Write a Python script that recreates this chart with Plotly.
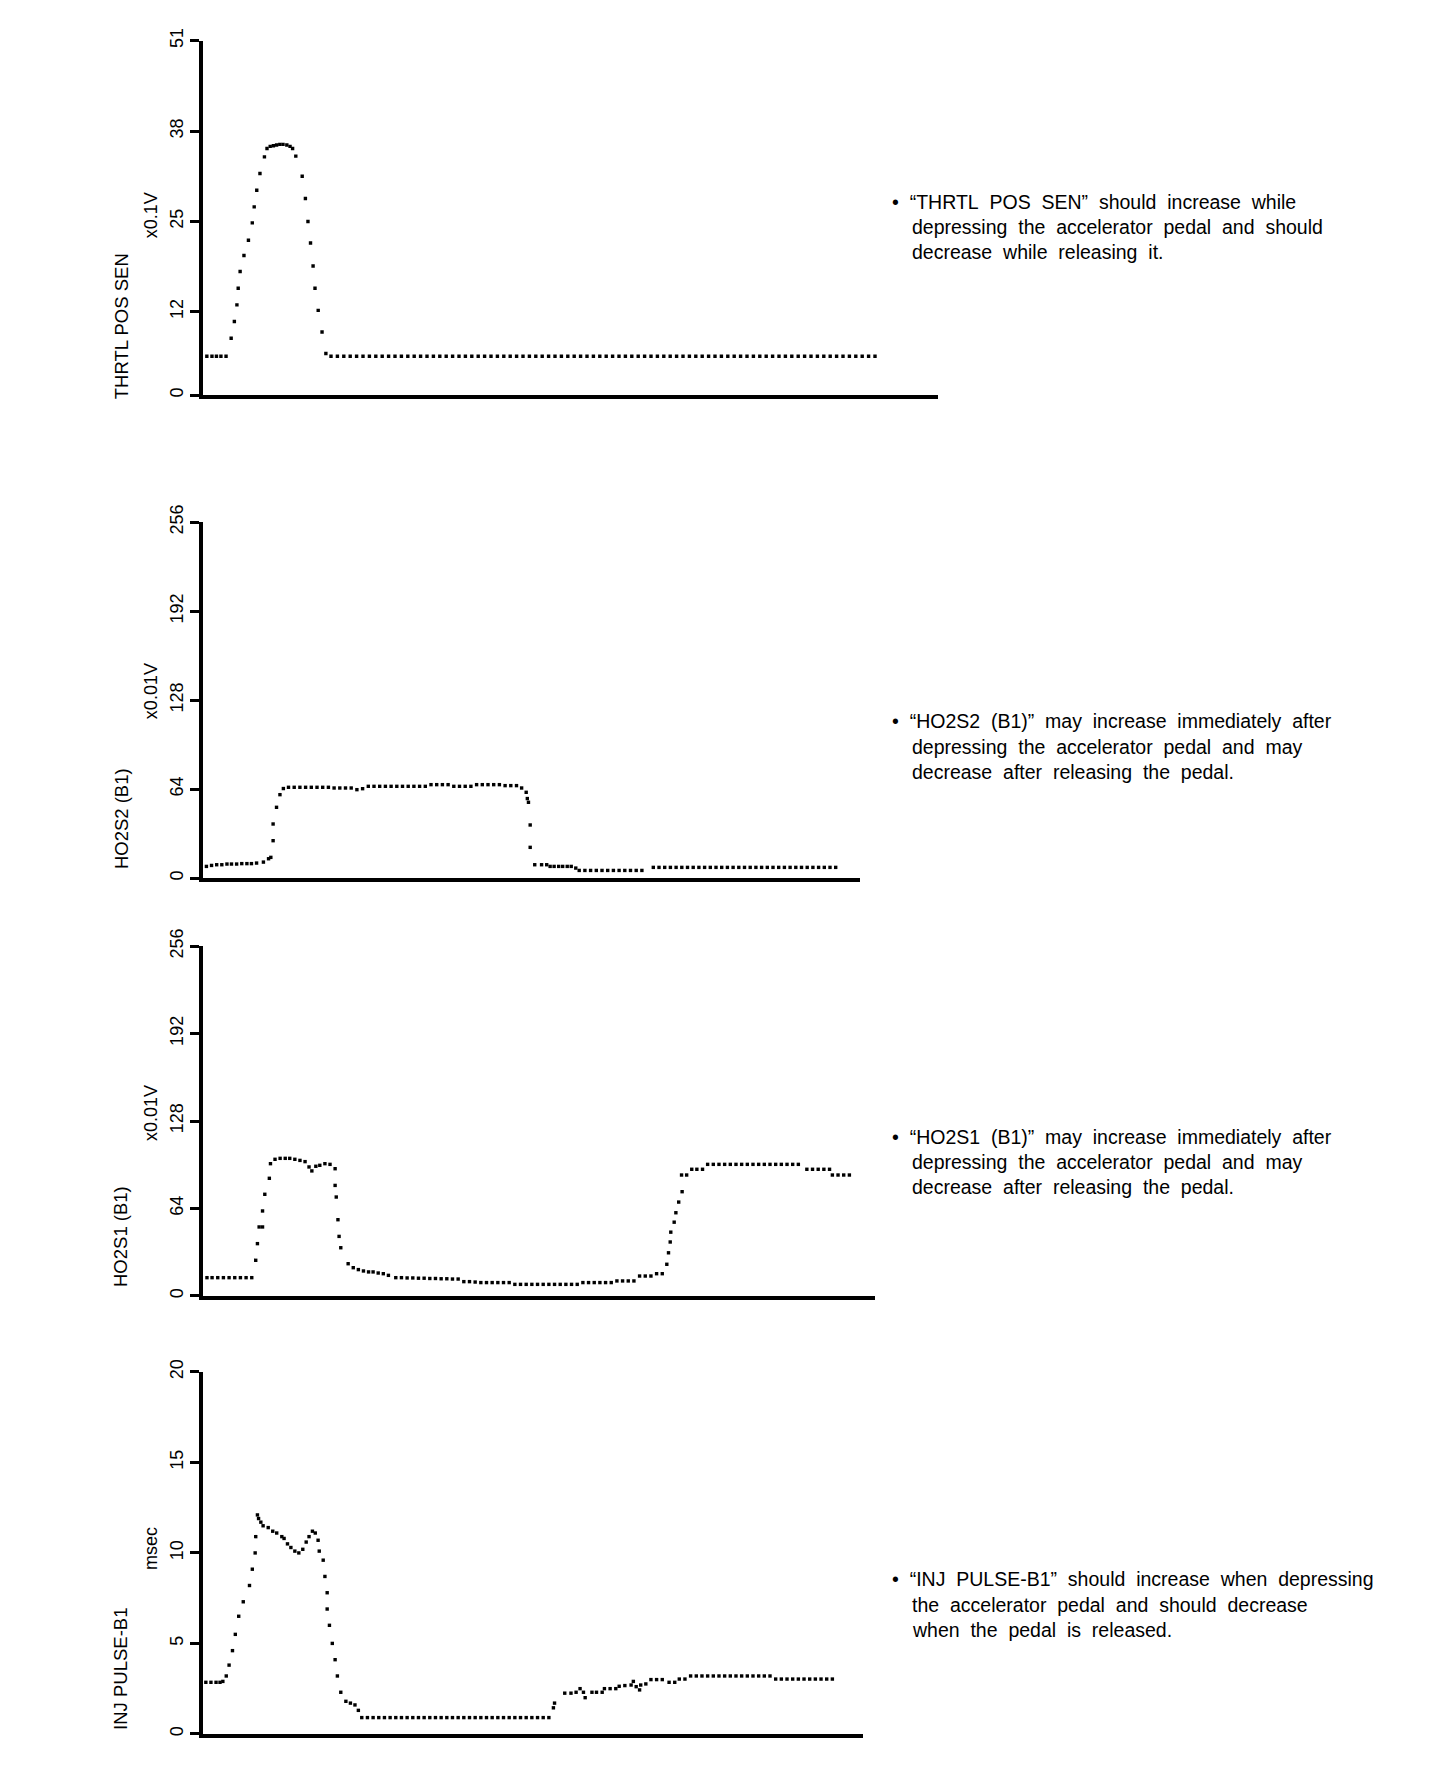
import plotly.graph_objects as go

W, H = 1456, 1770
BODY = 8                      # default page margin around the plot div
FW, FH = W - 2 * BODY, H - 2 * BODY
FONT = "Liberation Sans, Arial, Helvetica, sans-serif"

# ---------------- data ----------------
# Panel 1: THRTL POS SEN (x0.1V)
thrtl_t = [0.6, 1.4, 2.1, 2.8, 3.6,
           4.4, 4.9, 5.3, 5.5, 5.8, 6.4, 7.1, 7.7, 8.0, 8.4, 8.9, 9.6, 10.0, 10.5, 11.0,
           11.5, 12.0, 12.5, 13.1, 13.6, 14.0, 14.5, 15.5, 16.0, 16.4, 16.8, 17.2, 17.5, 18.0,
           18.6, 19.2,
           20, 21, 22, 23, 24, 25, 26, 27, 28, 29, 30, 31, 32, 33, 34, 35, 36, 37, 38, 39,
           40, 41, 42, 43, 44, 45, 46, 47, 48, 49, 50, 51, 52, 53, 54, 55, 56, 57, 58, 59,
           60, 61, 62, 63, 64, 65, 66, 67, 68, 69, 70, 71, 72, 73, 74, 75, 76, 77, 78, 79,
           80, 81, 82, 83, 84, 85, 86, 87, 88, 89, 90, 91, 92, 93, 94, 95, 96, 97, 98, 99,
           100, 101, 102, 103, 104, 105]
thrtl_v = [5.6, 5.6, 5.6, 5.6, 5.6,
           8.2, 10.6, 13.0, 15.4, 17.8, 20.1, 22.3, 24.8, 27.1, 29.5, 31.9, 34.3, 35.5, 35.8, 35.9,
           36.0, 36.1, 36.1, 36.0, 35.8, 35.5, 34.4, 31.5, 28.3, 25.0, 21.9, 18.6, 15.4, 12.2,
           9.1, 6.0,
           5.6, 5.6, 5.6, 5.6, 5.6, 5.6, 5.6, 5.6, 5.6, 5.6, 5.6, 5.6, 5.6, 5.6, 5.6, 5.6, 5.6, 5.6, 5.6, 5.6,
           5.6, 5.6, 5.6, 5.6, 5.6, 5.6, 5.6, 5.6, 5.6, 5.6, 5.6, 5.6, 5.6, 5.6, 5.6, 5.6, 5.6, 5.6, 5.6, 5.6,
           5.6, 5.6, 5.6, 5.6, 5.6, 5.6, 5.6, 5.6, 5.6, 5.6, 5.6, 5.6, 5.6, 5.6, 5.6, 5.6, 5.6, 5.6, 5.6, 5.6,
           5.6, 5.6, 5.6, 5.6, 5.6, 5.6, 5.6, 5.6, 5.6, 5.6, 5.6, 5.6, 5.6, 5.6, 5.6, 5.6, 5.6, 5.6, 5.6, 5.6,
           5.6, 5.6, 5.6, 5.6, 5.6, 5.6]

# Panel 2: HO2S2 (B1) (x0.01V)
ho2s2_t = [0.6, 1.5, 2.4, 3.3, 4.2, 5.0, 5.9, 6.8, 7.7, 8.5, 9.4, 10.6, 11.5,
           11.9, 12.3, 12.3, 12.9, 13.5, 14.1, 15.0,
           16, 17, 18, 19, 20, 21, 22, 23, 24, 25, 26, 27, 28, 29, 30, 31, 32, 33, 34, 35,
           36, 37, 38, 39, 40, 41, 42, 43, 44, 45, 46, 47, 48, 49, 50, 51, 52, 53, 54, 55,
           55.9, 56.7, 56.9, 57.1, 57.4, 57.4,
           58.2, 59.4, 60.3, 60.9, 61.6, 62.4, 63.1, 63.9, 64.6, 65.4,
           66, 67, 68, 69, 70, 71, 72, 73, 74, 75, 76, 77,
           79, 80, 81, 82, 83, 84, 85, 86, 87, 88, 89, 90, 91, 92, 93, 94, 95, 96, 97, 98,
           99, 100, 101, 102, 103, 104, 105, 106, 107, 108, 109, 110, 111]
ho2s2_v = [8.4, 9.1, 9.6, 9.6, 10.1, 10.1, 10.1, 10.4, 10.4, 10.4, 10.8, 11.5, 13.9,
           14.9, 26.9, 38.9, 50.9, 60.0, 64.4, 65.3,
           65.3, 65.3, 65.3, 65.3, 65.3, 65.3, 65.3, 64.8, 64.8, 64.8, 64.8, 63.6, 64.3, 66.0, 66.0, 66.0, 66.0, 66.0, 66.0, 66.0,
           66.0, 66.0, 66.0, 66.0, 67.2, 67.2, 67.2, 67.2, 66.0, 66.0, 66.0, 66.0, 67.2, 67.2, 67.2, 67.2, 67.2, 66.5, 66.5, 66.5,
           64.8, 61.7, 57.2, 54.5, 38.2, 22.1,
           9.6, 9.6, 9.6, 8.4, 8.4, 8.4, 8.4, 8.4, 8.4, 7.2,
           5.5, 5.5, 5.5, 5.5, 5.5, 5.5, 5.5, 5.5, 5.5, 5.5, 5.5, 5.5,
           7.7, 7.7, 7.7, 7.7, 7.7, 7.7, 7.7, 7.7, 7.7, 7.7, 7.7, 7.7, 7.7, 7.7, 7.7, 7.7, 7.7, 7.7, 7.7, 7.7,
           7.7, 7.7, 7.7, 7.7, 7.7, 7.7, 7.7, 7.7, 7.7, 7.7, 7.7, 7.7, 7.7]

# Panel 3: HO2S1 (B1) (x0.01V)
ho2s1_t = [0.7, 1.6, 2.6, 3.6, 4.6, 5.6, 6.6, 7.6, 8.6,
           9.3, 9.6, 9.9, 10.5, 10.5, 10.9, 11.7, 11.9, 12.7, 13.6, 14.5, 15.3, 16.2, 17.1, 18.0,
           18.7, 19.2, 19.9, 20.6, 21.5, 22.4, 23.3, 23.3, 23.5, 23.8, 24.0, 24.3,
           25.6, 26.5, 27.4, 28.3, 29.2, 30.0, 30.9, 31.8, 32.7,
           34, 35, 36, 37, 38, 39, 40, 41, 42, 43, 44, 45, 46, 47, 48, 49, 50, 51, 52, 53,
           54, 55, 56, 57, 58, 59, 60, 61, 62, 63, 64, 65, 66, 67, 68, 69, 70, 71, 72, 73,
           74, 75, 76, 77, 78, 79, 80, 81,
           81.8, 82.1, 82.4, 82.5, 83.1, 83.4, 83.9, 84.5, 84.4, 85.3, 86.2, 87.1, 88.1,
           89, 90, 91, 92, 93, 94, 95, 96, 97, 98, 99, 100, 101, 102, 103, 104, 105,
           106.5, 107.5, 108.5, 109.5, 110.5,
           111, 112, 113, 114]
ho2s1_v = [13.4, 13.4, 13.4, 13.4, 13.4, 13.4, 13.4, 13.4, 13.4,
           26.1, 38.3, 50.5, 50.5, 62.2, 74.4, 86.1, 96.8, 100.0, 100.7, 100.7, 100.7, 100.0, 99.2, 98.3,
           94.4, 91.5, 94.9, 95.6, 96.8, 96.3, 93.1, 80.9, 72.4, 55.8, 43.6, 35.3,
           23.6, 20.7, 19.3, 18.3, 17.6, 17.6, 16.8, 16.3, 15.1,
           13.4, 13.4, 13.2, 13.2, 13.0, 13.0, 12.8, 12.8, 12.6, 12.6, 12.4, 12.4, 10.5, 10.5, 10.2, 9.8, 9.8, 9.8, 9.8, 9.8,
           9.8, 8.5, 8.5, 8.5, 8.5, 8.5, 8.5, 8.5, 8.5, 8.5, 8.5, 8.5, 8.5, 9.8, 9.8, 9.8, 9.8, 9.8, 9.8, 11.0,
           11.0, 11.0, 11.0, 14.6, 14.6, 14.6, 16.3, 16.3,
           23.2, 31.6, 39.5, 46.7, 54.0, 60.9, 68.7, 76.3, 88.5, 88.5, 92.7, 92.7, 92.7,
           96.3, 96.3, 96.3, 96.3, 96.3, 96.3, 96.3, 96.3, 96.3, 96.3, 96.3, 96.3, 96.3, 96.3, 96.3, 96.3, 96.3,
           92.7, 92.7, 92.7, 92.7, 92.7,
           88.5, 88.5, 88.5, 88.5]

# Panel 4: INJ PULSE-B1 (msec)
inj_t = [0.5, 1.4, 2.3, 3.0, 3.5, 4.1, 4.6, 5.2, 5.7, 6.3, 7.1, 8.2, 8.7, 9.2,
         9.3, 9.6, 9.8, 10.2, 10.6, 11.5, 12.3, 13.0, 13.9, 14.3,
         14.9, 15.5, 16.2, 16.9, 17.6, 18.2, 18.7, 19.3, 19.8, 20.3,
         20.5, 21.2, 21.5, 21.9, 21.9, 22.3, 22.8, 23.3, 23.7, 24.3,
         25.2, 26.0, 26.8, 27.4, 28.0,
         29, 30, 31, 32, 33, 34, 35, 36, 37, 38, 39, 40, 41, 42, 43, 44, 45, 46, 47, 48,
         49, 50, 51, 52, 53, 54, 55, 56, 57, 58, 59, 60, 61,
         61.8, 62.0, 63.8, 64.9, 65.8, 66.5, 67.1, 67.4, 68.6, 69.4,
         70.4, 70.8, 71.8, 72.8, 73.4, 74.4, 75.5, 75.9, 76.4, 77.0,
         77.2, 78.1, 79.0, 80.0, 81.0, 82.2, 83.2, 84.0, 85.0,
         86, 87, 88, 89, 90, 91, 92, 93, 94, 95, 96, 97, 98, 99, 100,
         101, 102, 103, 104, 105, 106, 107, 108, 109, 110, 111]
inj_v = [2.85, 2.85, 2.85, 2.85, 2.9, 3.2, 3.8, 4.6, 5.5, 6.5, 7.3, 8.2, 9.1, 10.0,
         10.9, 12.1, 11.9, 11.7, 11.5, 11.4, 11.2, 11.1, 10.9, 10.8,
         10.5, 10.3, 10.1, 10.0, 10.2, 10.6, 10.9, 11.2, 11.1, 10.7,
         10.1, 9.6, 8.7, 7.8, 6.9, 6.0, 5.0, 4.1, 3.2, 2.3,
         1.8, 1.7, 1.6, 1.3, 0.9,
         0.9, 0.9, 0.9, 0.9, 0.9, 0.9, 0.9, 0.9, 0.9, 0.9, 0.9, 0.9, 0.9, 0.9, 0.9, 0.9, 0.9, 0.9, 0.9, 0.9,
         0.9, 0.9, 0.9, 0.9, 0.9, 0.9, 0.9, 0.9, 0.9, 0.9, 0.9, 0.9, 0.9,
         1.44, 1.7, 2.25, 2.25, 2.3, 2.5, 2.3, 2.0, 2.3, 2.3,
         2.3, 2.5, 2.5, 2.5, 2.63, 2.67, 2.7, 2.9, 2.61, 2.43,
         2.7, 2.76, 3.0, 3.0, 3.0, 2.85, 2.85, 3.03, 3.03,
         3.2, 3.2, 3.2, 3.2, 3.2, 3.2, 3.2, 3.2, 3.2, 3.2, 3.2, 3.2, 3.2, 3.2, 3.2,
         3.03, 3.03, 3.03, 3.03, 3.03, 3.03, 3.03, 3.03, 3.03, 3.03, 3.03]

thrtl_ticks = [0, 12, 25, 38, 51]
ho2s_ticks = [0, 64, 128, 192, 256]
inj_ticks = [0, 5, 10, 15, 20]

titles = ["THRTL POS SEN", "HO2S2 (B1)", "HO2S1 (B1)", "INJ PULSE-B1"]
units = ["x0.1V", "x0.01V", "x0.01V", "msec"]
notes = [
    ["• “THRTL POS SEN” should increase while",
     "depressing the accelerator pedal and should",
     "decrease while releasing it."],
    ["• “HO2S2 (B1)” may increase immediately after",
     "depressing the accelerator pedal and may",
     "decrease after releasing the pedal."],
    ["• “HO2S1 (B1)” may increase immediately after",
     "depressing the accelerator pedal and may",
     "decrease after releasing the pedal."],
    ["• “INJ PULSE-B1” should increase when depressing",
     "the accelerator pedal and should decrease",
     "when the pedal is released."],
]

# ---------------- layout geometry (page pixels) ----------------
panels = [
    dict(t=thrtl_t, v=thrtl_v, ticks=thrtl_ticks, x1=938, top=39.5, bot=394, xmax=735 / 6.4,
         title_y=325, unit_y=214, note_y=[201, 226, 251]),
    dict(t=ho2s2_t, v=ho2s2_v, ticks=ho2s_ticks, x1=860, top=521, bot=877, xmax=657 / 5.7,
         title_y=818, unit_y=690, note_y=[720, 746, 771]),
    dict(t=ho2s1_t, v=ho2s1_v, ticks=ho2s_ticks, x1=875, top=945, bot=1295, xmax=672 / 5.67,
         title_y=1236, unit_y=1112, note_y=[1136, 1161, 1186]),
    dict(t=inj_t, v=inj_v, ticks=inj_ticks, x1=863, top=1371, bot=1733, xmax=660 / 5.67,
         title_y=1668, unit_y=1548, note_y=[1578, 1604, 1629]),
]
X0 = 203


def yc(y):
    # vertical calibration of positions measured on the reference
    return 1.0113 * y - 17


def px(x):
    return (x - BODY) / FW


def py(y):
    return 1 - (yc(y) - BODY) / FH


def spaced(s):
    return s.replace(" ", "\u00a0 ")


fig = go.Figure()
annotations = []
layout = {}
for i, p in enumerate(panels):
    n = i + 1
    assert len(p["t"]) == len(p["v"]), (i, len(p["t"]), len(p["v"]))
    xa = "x" if n == 1 else f"x{n}"
    ya = "y" if n == 1 else f"y{n}"
    fig.add_trace(go.Scatter(
        x=p["t"], y=p["v"], xaxis=xa, yaxis=ya, mode="markers",
        marker=dict(symbol="square", size=3.4, color="black", line=dict(width=0)),
        showlegend=False, hoverinfo="skip"))
    layout[f"xaxis{n if n > 1 else ''}"] = dict(
        domain=[px(X0), px(p["x1"])], range=[0, p["xmax"]], anchor=ya,
        showline=True, linewidth=3.5, linecolor="black", showgrid=False,
        zeroline=False, showticklabels=False, ticks="", fixedrange=True)
    layout[f"yaxis{n if n > 1 else ''}"] = dict(
        domain=[py(p["bot"]), py(p["top"])], range=[0, p["ticks"][-1]], anchor=xa,
        showline=True, linewidth=3.5, linecolor="black", showgrid=False,
        zeroline=False, ticks="outside", ticklen=9, tickwidth=3, tickcolor="black",
        tickvals=p["ticks"], ticktext=[str(v) for v in p["ticks"]], tickangle=-90,
        tickfont=dict(family=FONT, size=18, color="black"), fixedrange=True)
    annotations.append(dict(
        text=titles[i], x=px(121), y=py(p["title_y"]), xref="paper", yref="paper",
        textangle=-90, showarrow=False, xanchor="center", yanchor="middle",
        font=dict(family=FONT, size=18.5, color="black")))
    annotations.append(dict(
        text=units[i], x=px(151), y=py(p["unit_y"]), xref="paper", yref="paper",
        textangle=-90, showarrow=False, xanchor="center", yanchor="middle",
        font=dict(family=FONT, size=18, color="black")))
    for k, line in enumerate(notes[i]):
        annotations.append(dict(
            text=spaced(line), x=px(890 if k == 0 else 910), y=py(p["note_y"][k]),
            xref="paper", yref="paper", showarrow=False, xanchor="left", yanchor="middle",
            font=dict(family=FONT, size=19.5, color="black")))

fig.update_layout(
    width=FW, height=FH, margin=dict(l=0, r=0, t=0, b=0),
    paper_bgcolor="white", plot_bgcolor="white",
    annotations=annotations, **layout)

fig.write_html("out.html")
